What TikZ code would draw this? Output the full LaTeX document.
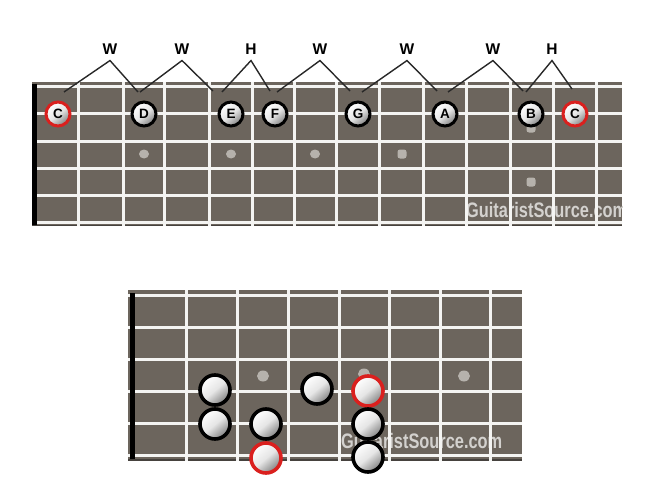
\documentclass[tikz,border=0pt]{standalone}
\usepackage{fontspec}
\setmainfont{Liberation Sans}
\usetikzlibrary{shapes.geometric}
\definecolor{board}{RGB}{108,101,93}
\definecolor{edge}{RGB}{70,66,62}
\definecolor{wire}{RGB}{244,244,242}
\definecolor{inlay}{RGB}{182,178,172}
\definecolor{rednote}{RGB}{218,32,30}
\definecolor{legcol}{RGB}{40,40,40}
\tikzset{
  wirestyle/.style={draw=wire, line width=3pt},
  nutstyle/.style={draw=black, line width=5pt},
  inlaydot/.style={ellipse, fill=inlay, minimum width=10pt, minimum height=9pt, inner sep=0pt},
  inlaysq/.style={rectangle, rounded corners=2.5pt, fill=inlay, minimum width=9pt, minimum height=9pt, inner sep=0pt},
  notestyle/.style={circle, inner sep=0pt, draw=black, line width=3pt,
     top color=white, bottom color=black!50, middle color=white!90!black, shading angle=40},
  smallnote/.style={notestyle, minimum size=24pt, font=\bfseries\fontsize{13.5}{13.5}\selectfont},
  bignote/.style={notestyle, minimum size=30pt, line width=3.6pt},
  rootnote/.style={draw=rednote},
  steplabel/.style={font=\bfseries\fontsize{15.5}{15.5}\selectfont, inner sep=0pt},
  legline/.style={draw=legcol, line width=1.4pt},
  watermark/.style={font=\bfseries\fontsize{21}{21}\selectfont, text=white!70!board, xscale=0.78, inner sep=0pt, anchor=base west}
}
\begin{document}
\begin{tikzpicture}[x=1pt,y=-1pt]
\useasboundingbox (0,0) rectangle (650,500);
\fill[white] (0,0) rectangle (650,500);

% ---------- top fretboard ----------
\fill[board] (32,82) rectangle (622,226);
\draw[edge, line width=1.5pt] (32,225.5) -- (622,225.5);
\begin{scope}
\clip (32,82) rectangle (622,226);
\node[watermark] (wm1) at (466,217) {GuitaristSource.com};
\end{scope}
\foreach \x in {78,123,164,209,252,294,336,379,423,466,510,553,596}
  \draw[wirestyle] (\x,82) -- (\x,226);
\foreach \y in {87,114,141,168,195,222}
  \draw[wirestyle] (32,\y) -- (622,\y);
\draw[nutstyle] (34.5,84) -- (34.5,225);
\node[inlaydot] (d3) at (144,154) {};
\node[inlaydot] (d5) at (231,154) {};
\node[inlaydot] (d7) at (315,154) {};
\node[inlaysq] (d9) at (402,154) {};
\node[inlaysq] (d12a) at (531,128) {};
\node[inlaysq] (d12b) at (531,182) {};

\node[smallnote, rootnote] (c1) at (58,114) {C};
\node[smallnote] (nd) at (144,114) {D};
\node[smallnote] (ne) at (231,114) {E};
\node[smallnote] (nf) at (275,114) {F};
\node[smallnote] (ng) at (358,114) {G};
\node[smallnote] (na) at (445,114) {A};
\node[smallnote] (nb) at (531,114) {B};
\node[smallnote, rootnote] (c2) at (575,114) {C};

% interval labels
\node[steplabel] (s1) at (110,49) {W};
\node[steplabel] (s2) at (182,49) {W};
\node[steplabel] (s3) at (251,49) {H};
\node[steplabel] (s4) at (320,49) {W};
\node[steplabel] (s5) at (407,49) {W};
\node[steplabel] (s6) at (493,49) {W};
\node[steplabel] (s7) at (552,49) {H};
\foreach \s in {1,...,7} \coordinate (a\s) at ([yshift=-6pt]s\s.south);
\coordinate (e1l) at (64,92);  \coordinate (e1r) at (138,92);
\coordinate (e2l) at (140,92); \coordinate (e2r) at (213,91);
\coordinate (e3l) at (222,92); \coordinate (e3r) at (270,91);
\coordinate (e4l) at (277,92); \coordinate (e4r) at (350,91);
\coordinate (e5l) at (362,92); \coordinate (e5r) at (437,91);
\coordinate (e6l) at (448,92); \coordinate (e6r) at (523,91);
\coordinate (e7l) at (526,92); \coordinate (e7r) at (572,89);
\foreach \s in {1,...,7} \draw[legline] (e\s l) -- (a\s) -- (e\s r);

% ---------- bottom fretboard ----------
\fill[board] (128,290) rectangle (522,461);
\draw[edge, line width=1.5pt] (128,460) -- (522,460);
\begin{scope}
\clip (128,290) rectangle (522,461);
\node[watermark] (wm2) at (341,448) {GuitaristSource.com};
\end{scope}
\foreach \x in {186,237,288,339,389,440,490}
  \draw[wirestyle] (\x,290) -- (\x,461);
\foreach \y in {295,327,359,391,423,455}
  \draw[wirestyle] (128,\y) -- (522,\y);
\draw[nutstyle] (132,293) -- (132,459);
\node[inlaydot, minimum width=12pt, minimum height=11pt] (b3) at (263,376) {};
\node[inlaydot, minimum width=12pt, minimum height=11pt] (b5) at (364,374) {};
\node[inlaydot, minimum width=12pt, minimum height=11pt] (b7) at (464,376) {};

\node[bignote] (p1) at (215,390) {};
\node[bignote] (p2) at (215,424) {};
\node[bignote] (p3) at (266,424) {};
\node[bignote, rootnote] (p4) at (266,458) {};
\node[bignote] (p5) at (317,389) {};
\node[bignote, rootnote] (p6) at (368,391) {};
\node[bignote] (p7) at (368,424) {};
\node[bignote] (p8) at (368,457) {};
\end{tikzpicture}
\end{document}
